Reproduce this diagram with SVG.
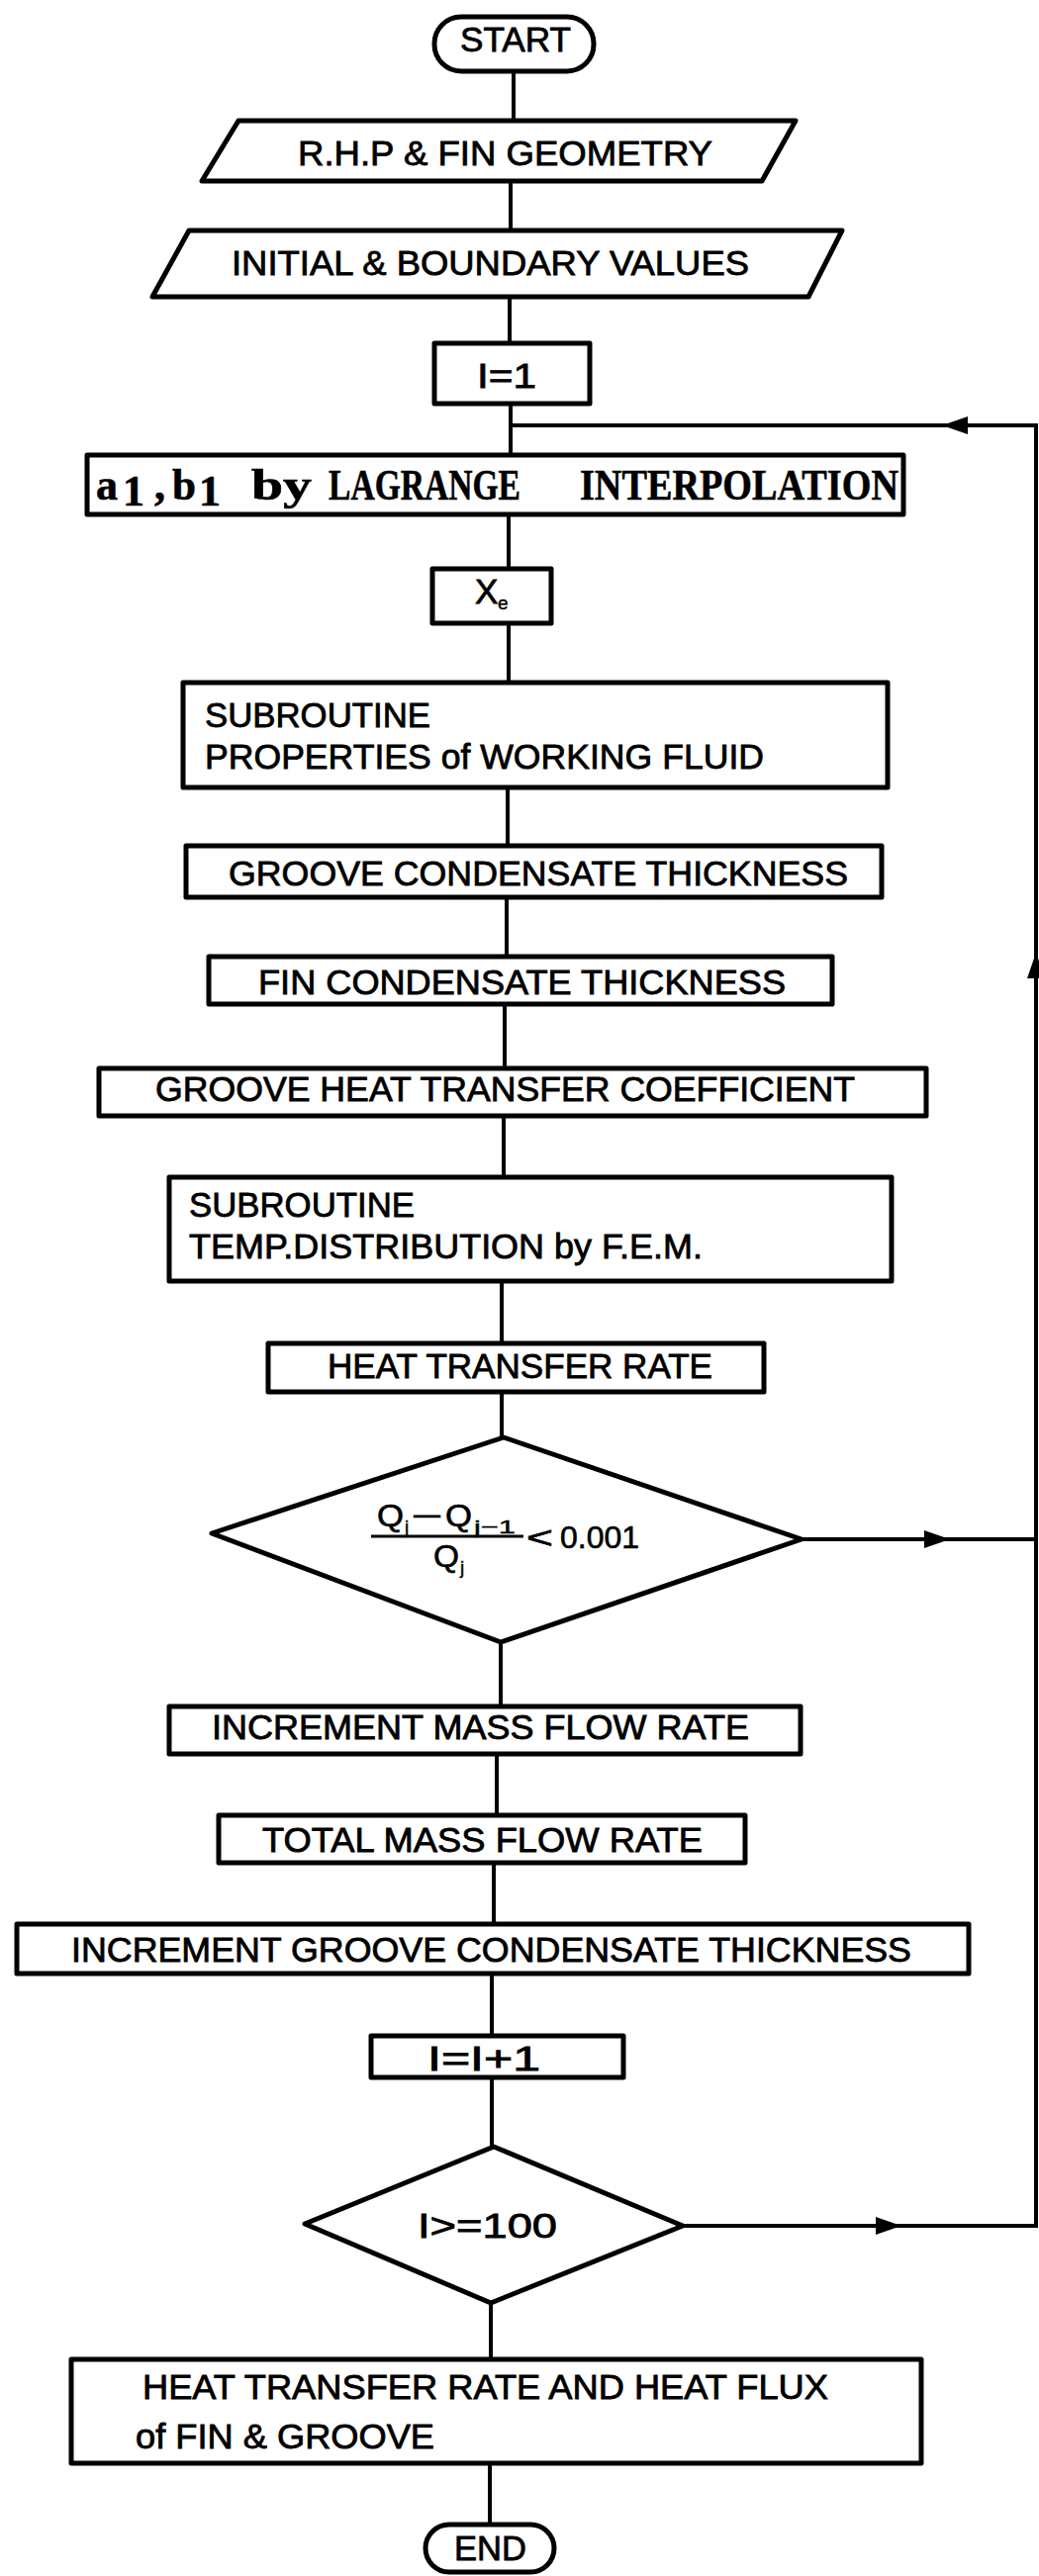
<svg xmlns="http://www.w3.org/2000/svg" width="1050" height="2604" viewBox="0 0 1050 2604">
<style>
.box{fill:#fff;stroke:#000;stroke-width:5;stroke-linejoin:round}
.ln{fill:none;stroke:#000;stroke-width:4}
.t{font-family:"Liberation Sans",Arial,sans-serif;font-size:35px;fill:#000;stroke:#000;stroke-width:0.8px}
.tw{font-family:"Liberation Serif","Times New Roman",serif;font-weight:bold;font-size:44px;fill:#000;stroke:#000;stroke-width:0.6px}
.sm{font-family:"Liberation Sans",Arial,sans-serif;font-size:32px;fill:#000;stroke:#000;stroke-width:0.6px}
.sub{font-family:"Liberation Sans",Arial,sans-serif;font-size:19px;fill:#000;stroke:#000;stroke-width:0.4px}
</style>
<defs>
<marker id="ah" markerUnits="userSpaceOnUse" markerWidth="28" markerHeight="18" refX="26" refY="9" orient="auto">
<path d="M0 0 L26 9 L0 18 Z" fill="#000"/>
</marker>
</defs>
<rect width="1050" height="2604" fill="#fff"/>
<g id="connectors">
<path class="ln" d="M519 72 V122"/>
<path class="ln" d="M516 183 V233"/>
<path class="ln" d="M515 300 V347"/>
<path class="ln" d="M516 408 V460"/>
<path class="ln" d="M514 520 V575"/>
<path class="ln" d="M514 630 V690"/>
<path class="ln" d="M513 796 V855"/>
<path class="ln" d="M512 907 V967"/>
<path class="ln" d="M510 1015 V1080"/>
<path class="ln" d="M509 1128 V1190"/>
<path class="ln" d="M507 1295 V1358"/>
<path class="ln" d="M507 1407 V1453"/>
<path class="ln" d="M506 1660 V1725"/>
<path class="ln" d="M502 1773 V1835"/>
<path class="ln" d="M499 1883 V1945"/>
<path class="ln" d="M497 1995 V2058"/>
<path class="ln" d="M497 2100 V2170"/>
<path class="ln" d="M496 2328 V2385"/>
<path class="ln" d="M495 2490 V2552"/>
<path class="ln" d="M690 2250 H911" marker-end="url(#ah)"/>
<path class="ln" d="M905 2250 H1047 V963" marker-end="url(#ah)"/>
<path class="ln" d="M1047 970 V430 H952" marker-end="url(#ah)"/>
<path class="ln" d="M958 430 H516"/>
<path class="ln" d="M810 1556 H960" marker-end="url(#ah)"/>
<path class="ln" d="M954 1556 H1047"/>
</g>
<g id="start">
<rect class="box" x="439" y="17" width="161" height="55" rx="27"/>
<text class="t" x="465" y="52" textLength="112" lengthAdjust="spacingAndGlyphs">START</text>
</g>
<g id="rhp">
<polygon class="box" points="241,122 804,122 770,183 204,183"/>
<text class="t" x="301" y="167" font-size="36" textLength="419" lengthAdjust="spacingAndGlyphs">R.H.P &amp; FIN GEOMETRY</text>
</g>
<g id="initial">
<polygon class="box" points="191,233 851,233 817,300 154,300"/>
<text class="t" x="234" y="278" font-size="36" textLength="523" lengthAdjust="spacingAndGlyphs">INITIAL &amp; BOUNDARY VALUES</text>
</g>
<g id="i1">
<rect class="box" x="439" y="347" width="157" height="61"/>
<text class="t" x="482" y="392" textLength="60" lengthAdjust="spacingAndGlyphs">I=1</text>
</g>
<g id="lagrange">
<rect class="box" x="88" y="460" width="825" height="60"/>
<text class="tw" x="97" y="505" textLength="22" lengthAdjust="spacingAndGlyphs">a</text>
<text class="tw" x="124" y="511" font-size="20">1</text>
<text class="tw" x="156" y="505">,</text>
<text class="tw" x="174" y="505" textLength="24" lengthAdjust="spacingAndGlyphs">b</text>
<text class="tw" x="201" y="511" font-size="20">1</text>
<text class="tw" x="254" y="505" textLength="61" lengthAdjust="spacingAndGlyphs">by</text>
<text class="tw" x="332" y="505" textLength="194" lengthAdjust="spacingAndGlyphs">LAGRANGE</text>
<text class="tw" x="586" y="505" textLength="322" lengthAdjust="spacingAndGlyphs">INTERPOLATION</text>
</g>
<g id="xe">
<rect class="box" x="437" y="575" width="120" height="55"/>
<text class="t" x="480" y="610" font-size="32">X</text>
<text class="sub" x="503" y="616" font-size="20">e</text>
</g>
<g id="props">
<rect class="box" x="185" y="690" width="712" height="106"/>
<text class="t" x="207" y="735" textLength="228" lengthAdjust="spacingAndGlyphs">SUBROUTINE</text>
<text class="t" x="207" y="777" textLength="565" lengthAdjust="spacingAndGlyphs">PROPERTIES of WORKING FLUID</text>
</g>
<g id="groove_cond">
<rect class="box" x="188" y="855" width="703" height="52"/>
<text class="t" x="231" y="895" textLength="626" lengthAdjust="spacingAndGlyphs">GROOVE CONDENSATE THICKNESS</text>
</g>
<g id="fin_cond">
<rect class="box" x="211" y="967" width="630" height="48"/>
<text class="t" x="261" y="1005" textLength="533" lengthAdjust="spacingAndGlyphs">FIN CONDENSATE THICKNESS</text>
</g>
<g id="groove_htc">
<rect class="box" x="100" y="1080" width="836" height="48"/>
<text class="t" x="157" y="1113" textLength="707" lengthAdjust="spacingAndGlyphs">GROOVE HEAT TRANSFER COEFFICIENT</text>
</g>
<g id="temp">
<rect class="box" x="171" y="1190" width="730" height="105"/>
<text class="t" x="191" y="1230" textLength="228" lengthAdjust="spacingAndGlyphs">SUBROUTINE</text>
<text class="t" x="191" y="1272" textLength="519" lengthAdjust="spacingAndGlyphs">TEMP.DISTRIBUTION by F.E.M.</text>
</g>
<g id="htr">
<rect class="box" x="271" y="1358" width="501" height="49"/>
<text class="t" x="331" y="1393" textLength="389" lengthAdjust="spacingAndGlyphs">HEAT TRANSFER RATE</text>
</g>
<g id="conv">
<polygon class="box" points="509,1453 810,1556 506,1660 214,1550"/>
<text class="sm" x="381" y="1543" textLength="27" lengthAdjust="spacingAndGlyphs">Q</text>
<text class="sub" x="409" y="1550">j</text>
<text class="sm" x="418" y="1541" textLength="27" lengthAdjust="spacingAndGlyphs">—</text>
<text class="sm" x="450" y="1543" textLength="27" lengthAdjust="spacingAndGlyphs">Q</text>
<text class="sub" x="479" y="1550" textLength="42" lengthAdjust="spacingAndGlyphs">j−1</text>
<line x1="375" y1="1553" x2="529" y2="1553" stroke="#000" stroke-width="3"/>
<text class="sm" x="438" y="1584" textLength="26" lengthAdjust="spacingAndGlyphs">Q</text>
<text class="sub" x="465" y="1591">j</text>
<text class="sm" x="532" y="1565" textLength="27" lengthAdjust="spacingAndGlyphs">&lt;</text>
<text class="sm" x="566" y="1565" textLength="80" lengthAdjust="spacingAndGlyphs">0.001</text>
</g>
<g id="inc_mass">
<rect class="box" x="171" y="1725" width="638" height="48"/>
<text class="t" x="214" y="1758" textLength="543" lengthAdjust="spacingAndGlyphs">INCREMENT MASS FLOW RATE</text>
</g>
<g id="total_mass">
<rect class="box" x="221" y="1835" width="532" height="48"/>
<text class="t" x="265" y="1872" textLength="445" lengthAdjust="spacingAndGlyphs">TOTAL MASS FLOW RATE</text>
</g>
<g id="inc_groove">
<rect class="box" x="17" y="1945" width="962" height="50"/>
<text class="t" x="72" y="1983" textLength="849" lengthAdjust="spacingAndGlyphs">INCREMENT GROOVE CONDENSATE THICKNESS</text>
</g>
<g id="inc_i">
<rect class="box" x="375" y="2058" width="255" height="42"/>
<text class="t" x="432" y="2093" textLength="114" lengthAdjust="spacingAndGlyphs">I=I+1</text>
</g>
<g id="limit">
<polygon class="box" points="499,2170 690,2250 496,2328 308,2248"/>
<text class="t" x="422" y="2262" textLength="141" lengthAdjust="spacingAndGlyphs">I&gt;=100</text>
</g>
<g id="result">
<rect class="box" x="72" y="2385" width="859" height="105"/>
<text class="t" x="144" y="2425" textLength="693" lengthAdjust="spacingAndGlyphs">HEAT TRANSFER RATE AND HEAT FLUX</text>
<text class="t" x="137" y="2475" textLength="302" lengthAdjust="spacingAndGlyphs">of FIN &amp; GROOVE</text>
</g>
<g id="end">
<rect class="box" x="430" y="2552" width="130" height="48" rx="24"/>
<text class="t" x="459" y="2588" textLength="73" lengthAdjust="spacingAndGlyphs">END</text>
</g>
</svg>
